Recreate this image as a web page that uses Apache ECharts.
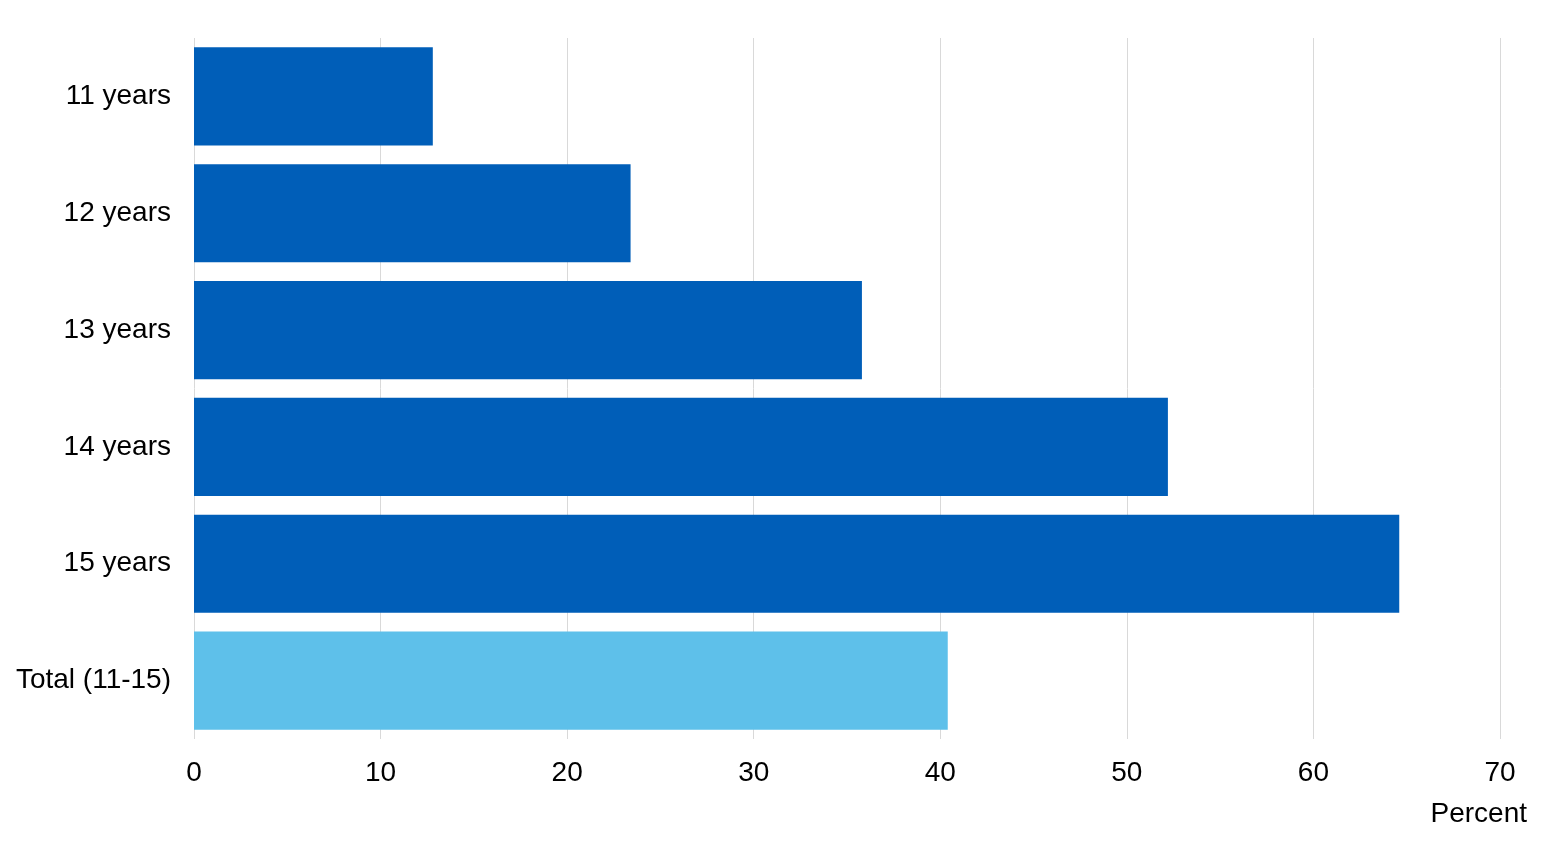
<!DOCTYPE html>
<html>
<head>
<meta charset="utf-8">
<script src="https://cdn.jsdelivr.net/npm/echarts@6/dist/echarts.min.js"></script>
<style>
  html, body { margin: 0; padding: 0; background: #fff; }
  #chart { width: 1560px; height: 845px; }
</style>
</head>
<body>
<div id="chart"></div>
<script>
// categories top to bottom
var ageGroups = ['11 years', '12 years', '13 years', '14 years', '15 years', 'Total (11-15)'];
var percentValues = [12.8, 23.4, 35.8, 52.2, 64.6, 40.4];
var xTicks = [0, 10, 20, 30, 40, 50, 60, 70];

var darkBlue = '#005EB8';
var lightBlue = '#5EC0EA';
var fontName = '"Liberation Sans", Arial, sans-serif';

var chart = echarts.init(document.getElementById('chart'));

chart.setOption({
    animation: false,
    textStyle: { fontFamily: fontName },
    grid: {
        left: 194,
        right: 60,
        top: 38,
        bottom: 106,
        containLabel: false
    },
    xAxis: {
        type: 'value',
        min: xTicks[0],
        max: xTicks[xTicks.length - 1],
        interval: 10,
        axisLine: { show: false },
        axisTick: { show: false },
        axisLabel: {
            color: '#000',
            fontSize: 28,
            fontFamily: fontName,
            margin: 20
        },
        splitLine: {
            show: true,
            lineStyle: { color: '#d9d9d9', width: 1 }
        }
    },
    yAxis: {
        type: 'category',
        inverse: true,
        data: ageGroups,
        axisLine: { show: false },
        axisTick: { show: false },
        axisLabel: {
            color: '#000',
            fontSize: 28,
            fontFamily: fontName,
            margin: 23,
            padding: [4, 0, 0, 0]
        }
    },
    graphic: [{
        type: 'text',
        right: 33,
        top: 800,
        style: {
            text: 'Percent',
            fill: '#000',
            fontSize: 28,
            fontFamily: fontName
        }
    }],
    series: [{
        type: 'bar',
        barCategoryGap: '16%',
        data: percentValues.map(function (v, i) {
            return {
                value: v,
                itemStyle: { color: i === percentValues.length - 1 ? lightBlue : darkBlue }
            };
        })
    }]
});
</script>
</body>
</html>
